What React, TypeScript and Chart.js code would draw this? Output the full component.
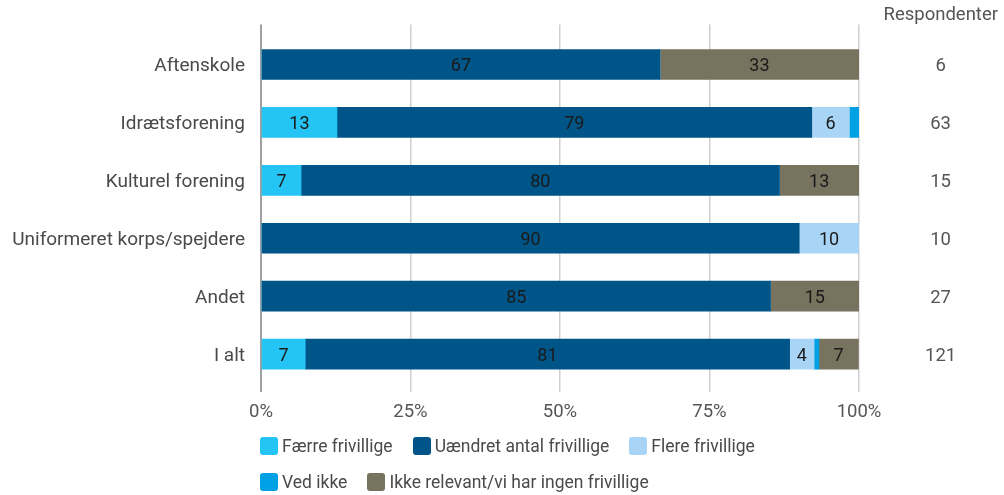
import React, { useEffect, useRef } from "react";
import { Chart, registerables } from "chart.js";

Chart.register(...registerables);

const categories = [
  "Aftenskole",
  "Idrætsforening",
  "Kulturel forening",
  "Uniformeret korps/spejdere",
  "Andet",
  "I alt",
];
const faerre = [0, 12.7, 6.7, 0, 0, 7.4];
const uaendret = [66.7, 79.4, 80, 90, 85.2, 81.0];
const flere = [0, 6.3, 0, 10, 0, 4.1];
const vedIkke = [0, 1.6, 0, 0, 0, 0.8];
const ikkeRelevant = [33.3, 0, 13.3, 0, 14.8, 6.6];
const respondents = [6, 63, 15, 10, 27, 121];
const xTicks = [0, 25, 50, 75, 100];

const seriesNames = [
  "Færre frivillige",
  "Uændret antal frivillige",
  "Flere frivillige",
  "Ved ikke",
  "Ikke relevant/vi har ingen frivillige",
];
const seriesColors = ["#24c4f4", "#005588", "#a8d5f5", "#00a0e4", "#77735f"];
const seriesValues = [faerre, uaendret, flere, vedIkke, ikkeRelevant];

const FONT = "Roboto, 'Noto Sans', sans-serif";

const dataLabelPlugin = {
  id: "dataLabels",
  afterDatasetsDraw(chart: any) {
    const ctx = chart.ctx;
    ctx.save();
    ctx.font = `18px ${FONT}`;
    ctx.fillStyle = "#1a1a1a";
    ctx.textAlign = "center";
    ctx.textBaseline = "middle";
    chart.data.datasets.forEach((ds: any, di: number) => {
      const meta = chart.getDatasetMeta(di);
      meta.data.forEach((el: any, i: number) => {
        const v = ds.data[i].x;
        if (v >= 3) {
          const cx = (el.x + el.base) / 2;
          ctx.fillText(String(Math.round(v)), cx, el.y + 2);
        }
      });
    });
    ctx.restore();
  },
};

const yMin = -0.69;
const yMax = 5.655;
const setIndexTicks = (axis: any) => {
  axis.ticks = categories.map((_, i) => ({ value: i }));
};

export default function App() {
  const ref = useRef<HTMLCanvasElement>(null);

  useEffect(() => {
    document.body.style.margin = "0";
    const chart = new Chart(ref.current!, {
      type: "bar",
      data: {
        datasets: seriesNames.map((name, si) => ({
          label: name,
          data: seriesValues[si].map((v, i) => ({ x: v, y: i })),
          backgroundColor: seriesColors[si],
          borderWidth: 0,
          barThickness: 30,
        })),
      },
      options: {
        indexAxis: "y",
        animation: false,
        responsive: false,
        maintainAspectRatio: false,
        layout: { autoPadding: false, padding: { left: 0, right: 6, top: 0, bottom: 0 } },
        plugins: {
          legend: { display: false },
          tooltip: { enabled: false },
          title: {
            display: true,
            text: "Respondenter",
            align: "end",
            color: "#555555",
            font: { family: FONT, size: 18.5, weight: "normal", lineHeight: 1 },
            padding: { top: 6, bottom: 0 },
          },
        },
        scales: {
          x: {
            type: "linear",
            stacked: true,
            min: 0,
            max: 100,
            afterBuildTicks: (axis: any) => {
              axis.ticks = xTicks.map((v) => ({ value: v }));
            },
            afterFit: (scale: any) => {
              scale.height = 103;
              scale.paddingLeft = 0;
              scale.paddingRight = 0;
            },
            ticks: {
              callback: (v: any) => v + "%",
              color: "#555555",
              font: { family: FONT, size: 18.5 },
              padding: 9,
            },
            grid: {
              drawTicks: false,
              color: (c: any) => (c.tick && c.tick.value === 0 ? "#a0a0a0" : "#cfcfcf"),
              lineWidth: (c: any) => (c.tick && c.tick.value === 0 ? 2 : 1.5),
            },
            border: { display: false },
          },
          y: {
            type: "linear",
            stacked: true,
            reverse: true,
            offset: false,
            min: yMin,
            max: yMax,
            afterBuildTicks: setIndexTicks,
            afterFit: (scale: any) => {
              scale.width = 261;
              scale.paddingTop = 0;
              scale.paddingBottom = 0;
            },
            ticks: {
              callback: (v: any) => categories[v] ?? "",
              color: "#4a4a4a",
              font: { family: FONT, size: 19 },
              padding: 16,
              labelOffset: 2,
            },
            grid: { display: false, drawTicks: false, offset: false },
            border: { display: false },
          },
          y2: {
            type: "linear",
            position: "right",
            reverse: true,
            offset: false,
            min: yMin,
            max: yMax,
            afterBuildTicks: setIndexTicks,
            afterFit: (scale: any) => {
              scale.width = 139;
              scale.paddingTop = 0;
              scale.paddingBottom = 0;
            },
            ticks: {
              callback: (v: any) => (respondents[v] !== undefined ? String(respondents[v]) : ""),
              color: "#555555",
              font: { family: FONT, size: 18.5 },
              crossAlign: "center",
              padding: 66,
              labelOffset: 2,
            },
            grid: { display: false, drawTicks: false },
            border: { display: false },
          },
        },
      },
      plugins: [dataLabelPlugin],
    } as any);
    return () => chart.destroy();
  }, []);

  const rows = [
    [0, 1, 2],
    [3, 4],
  ];

  return (
    <div style={{ position: "relative", width: 1004, height: 495 }}>
      <canvas
        ref={ref}
        width={1004}
        height={495}
        style={{ position: "absolute", left: 0, top: 0, width: 1004, height: 495 }}
      />
      {rows.map((row, ri) => (
        <div
          key={ri}
          style={{
            position: "absolute",
            left: 260,
            top: 436 + ri * 36,
            height: 20,
            display: "flex",
            alignItems: "center",
            gap: 20,
            fontFamily: FONT,
            fontSize: 17.5,
            color: "#4a4a4a",
            whiteSpace: "nowrap",
          }}
        >
          {row.map((si) => (
            <div key={si} style={{ display: "flex", alignItems: "center" }}>
              <span
                style={{
                  display: "inline-block",
                  width: 18,
                  height: 18,
                  borderRadius: 3,
                  background: seriesColors[si],
                  marginRight: 4,
                }}
              />
              <span>{seriesNames[si]}</span>
            </div>
          ))}
        </div>
      ))}
    </div>
  );
}
